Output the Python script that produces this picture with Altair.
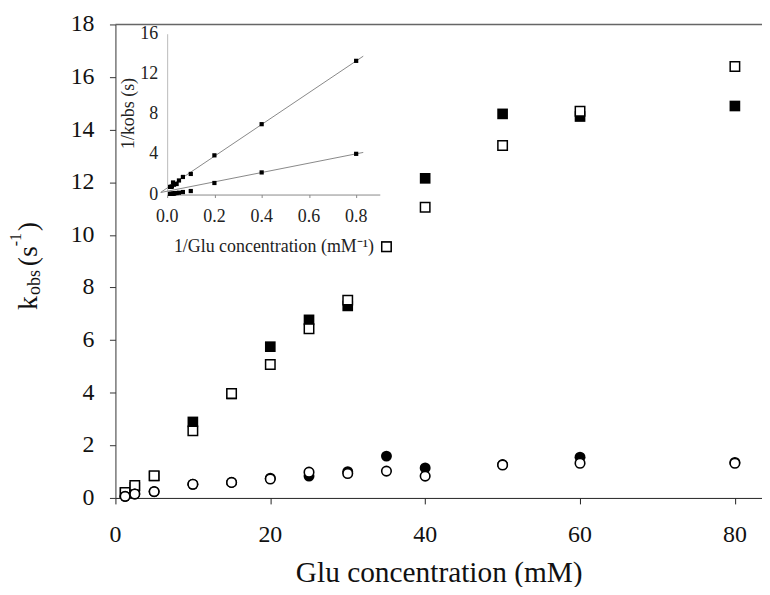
import altair as alt
import pandas as pd

# ---------------- data ----------------
conc = [1.25, 2.5, 5, 10, 15, 20, 25, 30, 35, 40, 50, 60, 80]
k_filled_sq = [0.2, 0.4, 0.84, 2.89, 3.95, 5.75, 6.77, 7.3, 9.55, 12.15, 14.6, 14.5, 14.9]
k_open_sq = [0.21, 0.47, 0.84, 2.55, 3.97, 5.07, 6.43, 7.52, 9.55, 11.05, 13.4, 14.7, 16.4]
k_filled_circ = [0.06, 0.15, 0.24, 0.52, 0.59, 0.75, 0.83, 1.0, 1.59, 1.14, 1.27, 1.55, 1.35]
k_open_circ = [0.06, 0.15, 0.24, 0.52, 0.59, 0.72, 0.98, 0.93, 1.02, 0.83, 1.25, 1.32, 1.32]

inv_conc = [0.8, 0.4, 0.2, 0.1, 0.0667, 0.05, 0.04, 0.0333, 0.0286, 0.025, 0.02, 0.0167, 0.0125]
inv_k_upper = [13.3, 7.0, 3.9, 2.05, 1.75, 1.4, 1.05, 1.05, 0.98, 1.2, 0.8, 0.76, 0.76]
inv_k_lower = [4.05, 2.2, 1.15, 0.35, 0.25, 0.18, 0.15, 0.14, 0.1, 0.085, 0.07, 0.068, 0.065]

fit_slopes = [15.8, 4.65]
fit_intercepts = [0.65, 0.33]
fit_x_range = [-0.027, 0.83]

x_ticks = [0, 20, 40, 60, 80]
y_ticks = [0, 2, 4, 6, 8, 10, 12, 14, 16, 18]
inset_x_ticks = [0.0, 0.2, 0.4, 0.6, 0.8]
inset_y_ticks = [0, 4, 8, 12, 16]

FONT = "Liberation Serif"
W, H = 650, 476

# ---------------- main chart ----------------
xs = alt.Scale(domain=[0, 83.5], nice=False)
ys = alt.Scale(domain=[0, 18], nice=False)
x_axis = alt.Axis(values=x_ticks, labels=False, title="Glu concentration (mM)",
                  titleFont=FONT, tickSize=6, titleFontSize=29.5,
                  titleFontWeight="normal", titleBaseline="alphabetic", titleY=84,
                  domainColor="#222", tickColor="#222", titleColor="#111",
                  grid=False, orient="bottom")
y_axis = alt.Axis(values=y_ticks, labels=False, title=None,
                  tickSize=6, domainColor="#333", tickColor="#333",
                  grid=False, orient="left")

def series(vals):
    return pd.DataFrame({"conc": conc, "k": vals})

X = alt.X("conc:Q", scale=xs, axis=x_axis)
Y = alt.Y("k:Q", scale=ys, axis=y_axis)

filled_sq = alt.Chart(series(k_filled_sq)).mark_point(
    shape="square", filled=True, color="black", size=115, opacity=1).encode(x=X, y=Y)
open_sq = alt.Chart(series(k_open_sq)).mark_point(
    shape="square", filled=True, fill="white", stroke="black", strokeWidth=1.5,
    size=90, opacity=1).encode(x=X, y=Y)
filled_ci = alt.Chart(series(k_filled_circ)).mark_point(
    shape="circle", filled=True, color="black", size=121, opacity=1).encode(x=X, y=Y)
open_ci = alt.Chart(series(k_open_circ)).mark_point(
    shape="circle", filled=True, fill="white", stroke="black", strokeWidth=1.6,
    size=92, opacity=1).encode(x=X, y=Y)

top_rule = alt.Chart(pd.DataFrame({"k": [18]})).mark_rule(color="#666", strokeWidth=1.5).encode(y=Y)

x_lab = alt.Chart(pd.DataFrame({"conc": x_ticks})).mark_text(
    font=FONT, fontSize=24, baseline="alphabetic", align="center", color="#111").encode(
    x=X, y=alt.value(520), text=alt.Text("conc:Q", format="d"))
y_lab = alt.Chart(pd.DataFrame({"k": y_ticks})).mark_text(
    font=FONT, fontSize=24, baseline="middle", align="right", color="#111").encode(
    y=Y, x=alt.value(-21), text=alt.Text("k:Q", format="d"))

def piece(txt, x, y, size):
    return alt.Chart(pd.DataFrame({"t": [txt]})).mark_text(
        angle=270, align="left", baseline="alphabetic", font=FONT, fontSize=size,
        color="#111").encode(x=alt.value(x), y=alt.value(y), text="t:N")

ytitle = [piece("k", -79, 287, 28), piece("obs", -76, 272, 18), piece("(s", -79, 243, 28),
          piece("-1", -95, 223, 16), piece(")", -79, 208, 28)]

main = alt.layer(top_rule, filled_sq, open_sq, filled_ci, open_ci, x_lab, y_lab, *ytitle)

# ---------------- inset ----------------
ixs = alt.Scale(domain=[0, 0.9], range=[52, 265.75], nice=False, zero=False)
iys = alt.Scale(domain=[0, 16], range=[171, 9.3], nice=False, zero=False)
ix_axis = alt.Axis(orient="bottom", offset=-305, values=inset_x_ticks, labels=False,
                   titleFont=FONT, tickSize=3, domainColor="#888",
                   tickColor="#888", grid=False,
                   title="1/Glu concentration (mM\u207b\u00b9)", titleFontSize=18,
                   titleFontWeight="normal", titleBaseline="alphabetic", titleY=57,
                   titleColor="#222")
iy_axis = alt.Axis(orient="left", offset=-52, values=inset_y_ticks, labels=False,
                   titleFont=FONT, ticks=False, domainColor="#bbb",
                   grid=False, title="1/kobs (s)", titleFontSize=18, titleFontWeight="normal",
                   titleAngle=270, titleBaseline="alphabetic", titleAlign="center",
                   titleX=-34, titleY=89, titleColor="#222")

IX = alt.X("ix:Q", scale=ixs, axis=ix_axis)
IY = alt.Y("iy:Q", scale=iys, axis=iy_axis)

fit_rows = []
for i, (m, b) in enumerate(zip(fit_slopes, fit_intercepts)):
    for xv in fit_x_range:
        fit_rows.append({"ix": xv, "iy": b + m * xv, "fit": i})
fit_df = pd.DataFrame(fit_rows)

inset_lines = alt.Chart(fit_df).mark_line(color="#888", strokeWidth=1).encode(
    x=IX, y=IY, detail="fit:N")
inset_df = pd.DataFrame({"ix": inv_conc * 2, "iy": inv_k_upper + inv_k_lower})
inset_pts = alt.Chart(inset_df).mark_point(
    shape="square", filled=True, color="black", size=18, opacity=1).encode(x=IX, y=IY)

ix_lab = alt.Chart(pd.DataFrame({"ix": inset_x_ticks})).mark_text(
    font=FONT, fontSize=18, baseline="alphabetic", align="center", color="#222").encode(
    x=IX, y=alt.value(199), text=alt.Text("ix:Q", format=".1f"))
iy_lab = alt.Chart(pd.DataFrame({"iy": inset_y_ticks})).mark_text(
    font=FONT, fontSize=18, baseline="middle", align="right", color="#222").encode(
    y=IY, x=alt.value(43), text=alt.Text("iy:Q", format="d"))

inset = alt.layer(inset_lines, inset_pts, ix_lab, iy_lab)

chart = alt.layer(main, inset).resolve_scale(x="independent", y="independent").properties(
    width=W, height=H,
    autosize=alt.AutoSizeParams(type="none"),
    padding={"left": 108, "top": 15, "right": 0, "bottom": 88},
).configure(font=FONT).configure_view(stroke=None)

chart.save("out.html", embed_options={"renderer": "svg", "actions": False})
